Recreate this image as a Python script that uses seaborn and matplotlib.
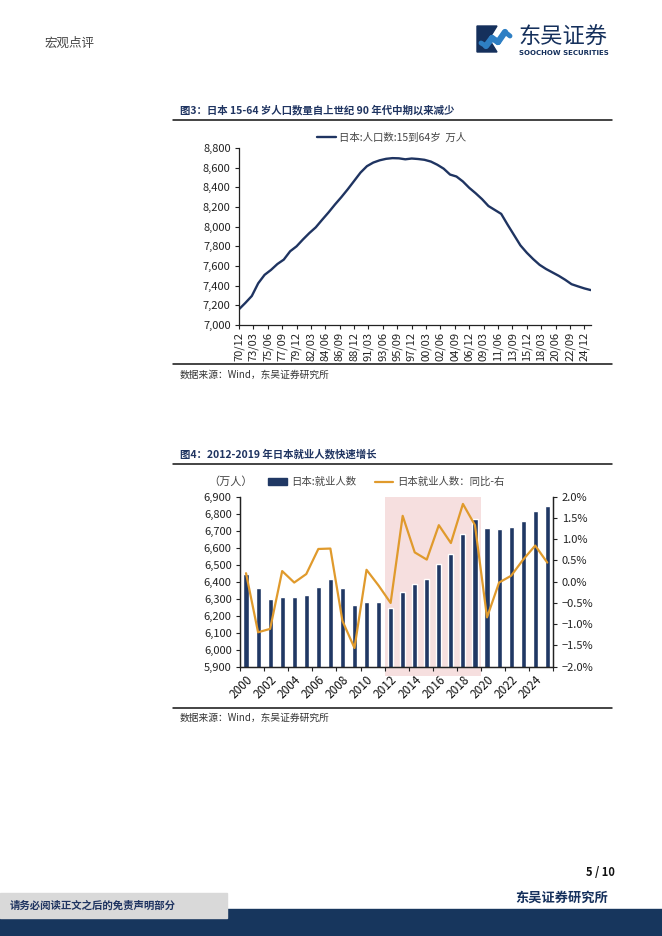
import numpy as np
import pandas as pd
import matplotlib
matplotlib.use("Agg")
import matplotlib.pyplot as plt
import matplotlib.dates as mdates
import matplotlib.ticker as mticker
import seaborn as sns
from matplotlib.patches import Rectangle, Polygon
from matplotlib.lines import Line2D

sns.set_theme(style="white")
plt.rcParams['font.family'] = ['Noto Sans CJK SC', 'DejaVu Sans']
plt.rcParams['axes.unicode_minus'] = True

# ---- data: figure 3, population aged 15-64 (万人), December of each year
pop_years = list(range(1970, 2026))
pop_values = [7160, 7225, 7295, 7424, 7510, 7560, 7620, 7665, 7750, 7800,
              7870, 7935, 7993, 8070, 8145, 8225, 8300, 8380, 8465, 8550,
              8615, 8652, 8675, 8690, 8697, 8695, 8685, 8693, 8688, 8680,
              8662, 8630, 8590, 8530, 8510, 8460, 8395, 8340, 8280, 8210,
              8170, 8130, 8020, 7915, 7810, 7735, 7670, 7612, 7570, 7535,
              7500, 7460, 7415, 7393, 7372, 7355]

# ---- data: figure 4, employed persons (万人) and yoy (%)
emp_years = list(range(2000, 2026))
emp_values = [6443, 6365, 6296, 6312, 6310, 6322, 6369, 6418, 6363, 6263,
              6282, 6278, 6245, 6340, 6384, 6416, 6502, 6561, 6680, 6771,
              6714, 6712, 6720, 6759, 6816, 6847]
emp_yoy = [0.20, -1.19, -1.11, 0.25, -0.02, 0.18, 0.77, 0.78, -0.92, -1.56,
           0.28, -0.09, -0.50, 1.55, 0.69, 0.52, 1.33, 0.91, 1.83, 1.33,
           -0.84, -0.02, 0.14, 0.52, 0.85, 0.45]
shade_years = (2012, 2019)

NAVY = "#1f3461"
BAR = "#203864"
ORANGE = "#e09a2c"
SHADE = "#f6dfdf"
W, H = 662, 936

fig = plt.figure(figsize=(W / 100, H / 100), dpi=100, facecolor="white")

def box(l, t, r, b):
    return [l / W, 1 - b / H, (r - l) / W, (b - t) / H]

# page overlay in pixel coordinates
pg = fig.add_axes([0, 0, 1, 1], zorder=0)
pg.set_xlim(0, W)
pg.set_ylim(H, 0)
pg.axis("off")

pg.text(45, 43, "宏观点评", fontsize=9, color="#444444", va="center")
# logo
pg.add_patch(Polygon([(477, 26), (497, 26), (489, 39), (497, 52), (477, 52)], closed=True, color="#15305c"))
pg.plot([486, 492], [46, 38], color="#2e7fc4", lw=4.5, solid_capstyle="round")
pg.plot([498, 505], [42, 32], color="#2e7fc4", lw=4.5, solid_capstyle="round")
pg.plot([492, 498], [38, 42], color="#2e7fc4", lw=4.5, solid_capstyle="round")
pg.plot([505, 510], [32, 36], color="#2e7fc4", lw=3.5, solid_capstyle="round")
pg.plot([481, 486], [43, 46], color="#2e7fc4", lw=3.5, solid_capstyle="round")
pg.text(518, 37, "东吴证券", fontsize=16, color="#15305c", va="center", ha="left")
pg.text(519, 53, "SOOCHOW SECURITIES", fontsize=5, color="#15305c", va="center", ha="left",
        fontweight="bold", family="DejaVu Sans")

# titles, rules and sources
for ty, rule_top, rule_bot, src_y, title in [
        (110, 120, 364, 375, "图3：日本 15-64 岁人口数量自上世纪 90 年代中期以来减少"),
        (454, 464, 708, 718, "图4：2012-2019 年日本就业人数快速增长")]:
    pg.text(180, ty, title, fontsize=7.5, fontweight="bold", color=NAVY, va="center")
    pg.plot([173, 612], [rule_top, rule_top], color="#111111", lw=1.1)
    pg.plot([173, 612], [rule_bot, rule_bot], color="#111111", lw=1.1)
    pg.text(180, src_y, "数据来源：Wind，东吴证券研究所", fontsize=7, color="#333333", va="center")

# footer
pg.text(615, 873, "5 / 10", fontsize=8, fontweight="bold", color="#111111", ha="right", va="center")
pg.text(608, 898, "东吴证券研究所", fontsize=9.5, fontweight="bold", color="#15305c", ha="right", va="center")
pg.add_patch(Rectangle((0, 909), W, 27, color="#17365d"))
pg.add_patch(Rectangle((0, 893), 227, 25, color="#d9d9d9"))
pg.text(10, 905.5, "请务必阅读正文之后的免责声明部分", fontsize=7.5, fontweight="bold", color=NAVY, va="center")

# ---------------- figure 3 ----------------
ax1 = fig.add_axes(box(239, 148, 591, 325), zorder=2)
ax1.patch.set_alpha(0)
s1 = pd.DataFrame({"date": pd.to_datetime([f"{y}-12-01" for y in pop_years]), "pop": pop_values})
sns.lineplot(data=s1, x="date", y="pop", color=NAVY, lw=1.7, ax=ax1, label="日本:人口数:15到64岁  万人")
ax1.set_xlim(pd.Timestamp("1970-12-01"), pd.Timestamp("2025-12-15"))
ax1.set_ylim(7000, 8800)
ax1.yaxis.set_major_locator(mticker.MultipleLocator(200))
ax1.yaxis.set_major_formatter(mticker.FuncFormatter(lambda v, p: f"{v:,.0f}"))
xt = pd.date_range("1970-12-01", periods=25, freq="27MS")
ax1.set_xticks(xt)
ax1.xaxis.set_major_formatter(mdates.DateFormatter("%y/%m"))
ax1.tick_params(axis="x", rotation=90, labelsize=8, length=3, width=0.8, colors="#222222", pad=2)
ax1.tick_params(axis="y", labelsize=8, length=3, width=0.8, colors="#222222", pad=3)
ax1.tick_params(left=True, bottom=True)
ax1.set_xlabel("")
ax1.set_ylabel("")
for sp in ["top", "right"]:
    ax1.spines[sp].set_visible(False)
for sp in ["left", "bottom"]:
    ax1.spines[sp].set_color("#222222")
    ax1.spines[sp].set_linewidth(0.9)
ax1.legend(loc="center left", bbox_to_anchor=(308 / W, 1 - 138 / H), bbox_transform=fig.transFigure,
           frameon=False, fontsize=7.5, handlelength=1.8, handletextpad=0.3, labelcolor="#444444")

# ---------------- figure 4 ----------------
ax2 = fig.add_axes(box(240, 496.7, 553.3, 666.7), zorder=2)
ax2.patch.set_alpha(0)
d2 = pd.DataFrame({"year": [str(y) for y in emp_years], "emp": emp_values, "yoy": emp_yoy})
i0 = emp_years.index(shade_years[0])
i1 = emp_years.index(shade_years[1])
ax2.axvspan(i0 - 0.5, i1 + 0.5, ymin=-0.053, ymax=1, color=SHADE, lw=0, zorder=0, clip_on=False)
sns.barplot(data=d2, x="year", y="emp", color=BAR, saturation=1, width=0.42, ax=ax2, zorder=2)
ax2.set_xlim(-0.5, len(emp_years) - 0.5)
ax2.set_ylim(5900, 6900)
ax2.yaxis.set_major_locator(mticker.MultipleLocator(100))
ax2.yaxis.set_major_formatter(mticker.FuncFormatter(lambda v, p: f"{v:,.0f}"))
ax2.set_xticks(range(0, len(emp_years), 2))
ax2.set_xticklabels([str(y) for y in emp_years[::2]], rotation=45, ha="right", rotation_mode="anchor")
ax2.set_xticks(np.arange(-0.5, len(emp_years), 2), minor=True)
ax2.tick_params(axis="x", which="major", length=0, labelsize=8.5, colors="#111111", pad=5)
ax2.tick_params(axis="x", which="minor", length=3, width=0.8, color="#222222", bottom=True)
ax2.tick_params(axis="y", labelsize=8, length=3, width=0.8, colors="#222222", left=True, pad=3)
ax2.set_xlabel("")
ax2.set_ylabel("")
ax2.spines["top"].set_visible(False)

ax3 = ax2.twinx()
sns.lineplot(x=np.arange(len(emp_years)), y=emp_yoy, color=ORANGE, lw=1.6, ax=ax3, zorder=3)
ax3.set_ylim(-2.0, 2.0)
ax3.yaxis.set_major_locator(mticker.MultipleLocator(0.5))
ax3.yaxis.set_major_formatter(mticker.FuncFormatter(lambda v, p: f"{v:.1f}%".replace("-", "\u2212")))
ax3.tick_params(axis="y", labelsize=8, length=3, width=0.8, colors="#222222", right=True, pad=3)
ax3.spines["top"].set_visible(False)
for a in (ax2, ax3):
    for sp in ["left", "bottom", "right"]:
        a.spines[sp].set_color("#222222")
        a.spines[sp].set_linewidth(0.9)
ax3.set_xlim(-0.5, len(emp_years) - 0.5)

pg.text(208, 482, "（万人）", fontsize=8, color="#444444", va="center")
h_bar = Rectangle((0, 0), 1, 1, color=BAR)
h_line = Line2D([], [], color=ORANGE, lw=1.6)
fig.legend([h_bar, h_line], ["日本:就业人数", "日本就业人数：同比-右"], loc="center left",
           bbox_to_anchor=(259 / W, 1 - 482 / H), ncol=2, frameon=False, fontsize=7.5,
           handlelength=1.8, handleheight=0.6, handletextpad=0.35, columnspacing=1.8,
           labelcolor="#444444")

fig.savefig("out.png", dpi=100, facecolor="white")
